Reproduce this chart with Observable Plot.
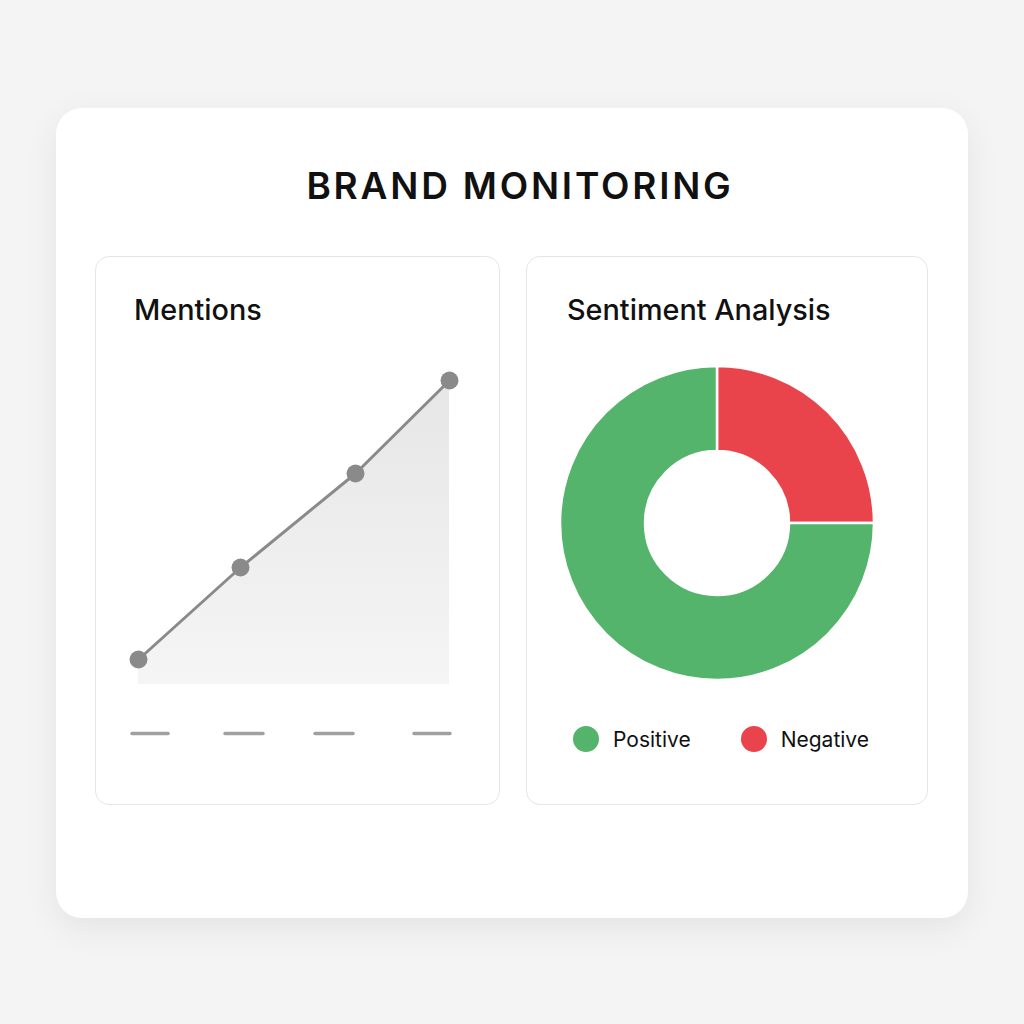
<!DOCTYPE html>
<html>
<head>
<meta charset="utf-8">
<script src="https://cdn.jsdelivr.net/npm/d3@7"></script>
<script src="https://cdn.jsdelivr.net/npm/@observablehq/plot@0.6"></script>
<style>
  html, body { margin: 0; padding: 0; }
  body { width: 1024px; height: 1024px; background: #f4f4f4; position: relative; overflow: hidden;
         font-family: Inter, "Noto Sans", "DejaVu Sans", sans-serif; color: #111; }
  .card { position: absolute; left: 56px; top: 108px; width: 912px; height: 810px; background: #ffffff;
          border-radius: 26px; box-shadow: 0 10px 34px rgba(0,0,0,0.07); }
  .title { position: absolute; left: 0; width: 1040px; top: 163px; text-align: center; font-size: 37px;
           font-weight: 600; letter-spacing: 2.8px; color: #111; }
  .panel { position: absolute; top: 256px; height: 549px; background: #fff; border: 1.5px solid #e6e6e6;
           border-radius: 14px; box-sizing: border-box; }
  .ptitle { position: absolute; font-size: 28.8px; font-weight: 500; color: #111; }
  .chart { position: absolute; }
  .legend { position: absolute; top: 726px; left: 573px; display: flex; align-items: center; font-size: 21px; color: #111; }
  .legend .sw { width: 26px; height: 26px; border-radius: 50%; display: inline-block; margin-right: 14px; }
  .legend .item { display: flex; align-items: center; }
</style>
</head>
<body>
<div class="card"></div>
<div class="title">BRAND MONITORING</div>
<div class="panel" style="left:95px;width:405px;"></div>
<div class="panel" style="left:526px;width:402px;"></div>
<div class="ptitle" style="left:134px;top:292px;">Mentions</div>
<div class="ptitle" style="left:567px;top:292px;">Sentiment Analysis</div>
<div id="line" class="chart" style="left:96px;top:330px;"></div>
<div id="donut" class="chart" style="left:527px;top:340px;"></div>
<div id="legend" class="legend"></div>

<script>
// ---- Data ----
const periods = [0, 10.2, 21.7, 31.1];          // time position of each observation
const mentions = [250, 1170, 2110, 3040];       // mention counts
const labelStart = [-0.6, 8.7, 17.7, 27.6];     // placeholder tick label dashes
const labelEnd = [3.0, 12.5, 21.5, 31.2];

const sentiments = ["Negative", "Positive"];
const shares = [25, 75];
const legendOrder = ["Positive", "Negative"];
const sentimentColors = ["#e9434b", "#54b46c"];

// ---- Line / area chart ----
const lineData = periods.map((p, i) => ({period: p, mentions: mentions[i]}));
const dashData = labelStart.map((s, i) => ({start: s, end: labelEnd[i]}));

const linePlot = Plot.plot({
  width: 402,
  height: 430,
  x: {domain: [0, 31.1], range: [42, 353], axis: null},
  y: {domain: [0, 3040], range: [354, 50], axis: null},
  style: {background: "transparent", overflow: "visible"},
  marks: [
    Plot.areaY(lineData, {x: "period", y: "mentions", fill: "url(#mentionsGrad)"}),
    Plot.line(lineData, {x: "period", y: "mentions", stroke: "#8a8a8a", strokeWidth: 3}),
    Plot.dot(lineData, {x: "period", y: "mentions", r: 9, fill: "#8a8a8a"}),
    Plot.ruleY(dashData, {x1: "start", x2: "end", y: 0, dy: 49, stroke: "#a0a0a0", strokeWidth: 3.5, strokeLinecap: "round"})
  ]
});
{
  const defs = d3.select(linePlot).insert("defs", ":first-child");
  const g = defs.append("linearGradient").attr("id", "mentionsGrad")
    .attr("x1", 0).attr("y1", 0).attr("x2", 0).attr("y2", 1);
  g.append("stop").attr("offset", "0%").attr("stop-color", "#e6e6e6");
  g.append("stop").attr("offset", "100%").attr("stop-color", "#f5f5f5");
}
document.getElementById("line").append(linePlot);

// ---- Donut chart ----
const donutData = sentiments.map((s, i) => ({sentiment: s, share: shares[i]}));
const outerR = 157, innerR = 72;

const donutPlot = Plot.plot({
  width: 380,
  height: 366,
  margin: 0,
  x: {axis: null},
  y: {axis: null},
  color: {domain: sentiments, range: sentimentColors},
  style: {background: "transparent", overflow: "visible"},
  marks: [
    (index, scales, values, dimensions) => {
      const pie = d3.pie().sort(null).value(d => d.share)(donutData);
      const arc = d3.arc().innerRadius(innerR).outerRadius(outerR);
      const g = d3.create("svg:g")
        .attr("transform", `translate(${dimensions.width / 2},${dimensions.height / 2})`);
      g.selectAll("path").data(pie).join("path")
        .attr("d", arc)
        .attr("fill", d => scales.color(d.data.sentiment))
        .attr("stroke", "#ffffff")
        .attr("stroke-width", 2.5)
        .attr("stroke-linejoin", "miter");
      return g.node();
    }
  ]
});
document.getElementById("donut").append(donutPlot);

// ---- Legend ----
const colorScale = donutPlot.scale("color");
const leg = d3.select("#legend");
legendOrder.forEach((name, i) => {
  const item = leg.append("div").attr("class", "item").style("margin-right", i === 0 ? "50px" : "0px");
  item.append("span").attr("class", "sw").style("background", colorScale.apply(name));
  item.append("span").text(name);
});
</script>
</body>
</html>
